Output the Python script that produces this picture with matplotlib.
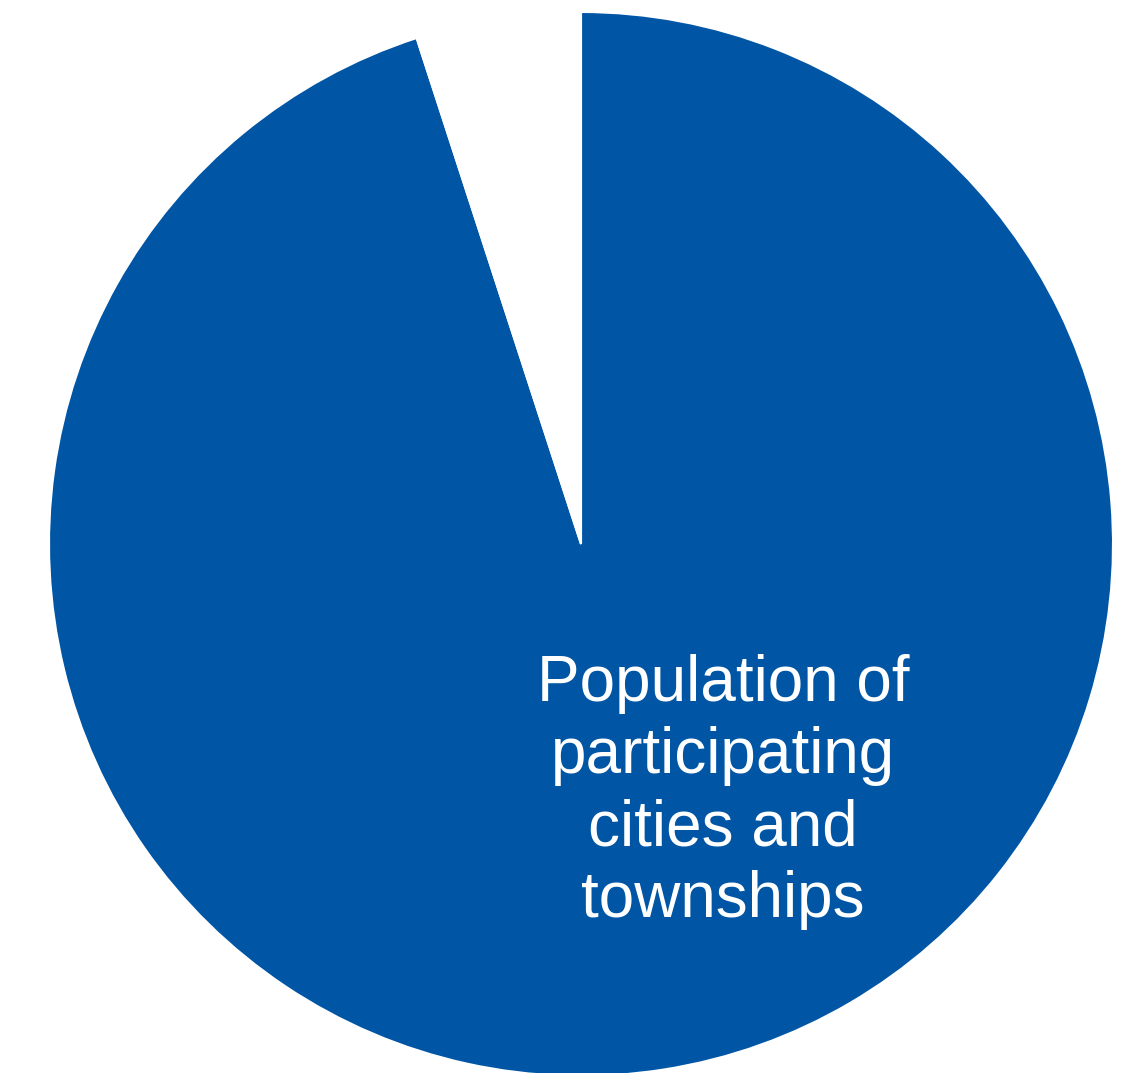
import matplotlib
matplotlib.use("Agg")
import matplotlib.pyplot as plt

# share of population (participating vs. the rest)
categories = ["Population of\nparticipating\ncities and\ntownships", "Other"]
shares = [95.0, 5.0]
colors = ["#0055A5", "#FFFFFF"]

W, H = 1148, 1073
fig = plt.figure(figsize=(W / 100, H / 100), dpi=100)
ax = fig.add_axes([0, 0, 1, 1])

# centre / radius in pixel units of the figure
cx, cy, r = 581, H - 544, 532
ax.pie(shares, colors=colors, startangle=90, counterclock=False,
       center=(cx, cy), radius=r,
       wedgeprops=dict(edgecolor="white", linewidth=1.5))
ax.set_xlim(0, W)
ax.set_ylim(0, H)
ax.set_aspect("equal")
ax.axis("off")

ax.text(723, H - 792, categories[0], color="white", fontsize=46,
        family="Liberation Sans", ha="center", va="center",
        multialignment="center", linespacing=1.26)

fig.savefig("out.png", dpi=100)
